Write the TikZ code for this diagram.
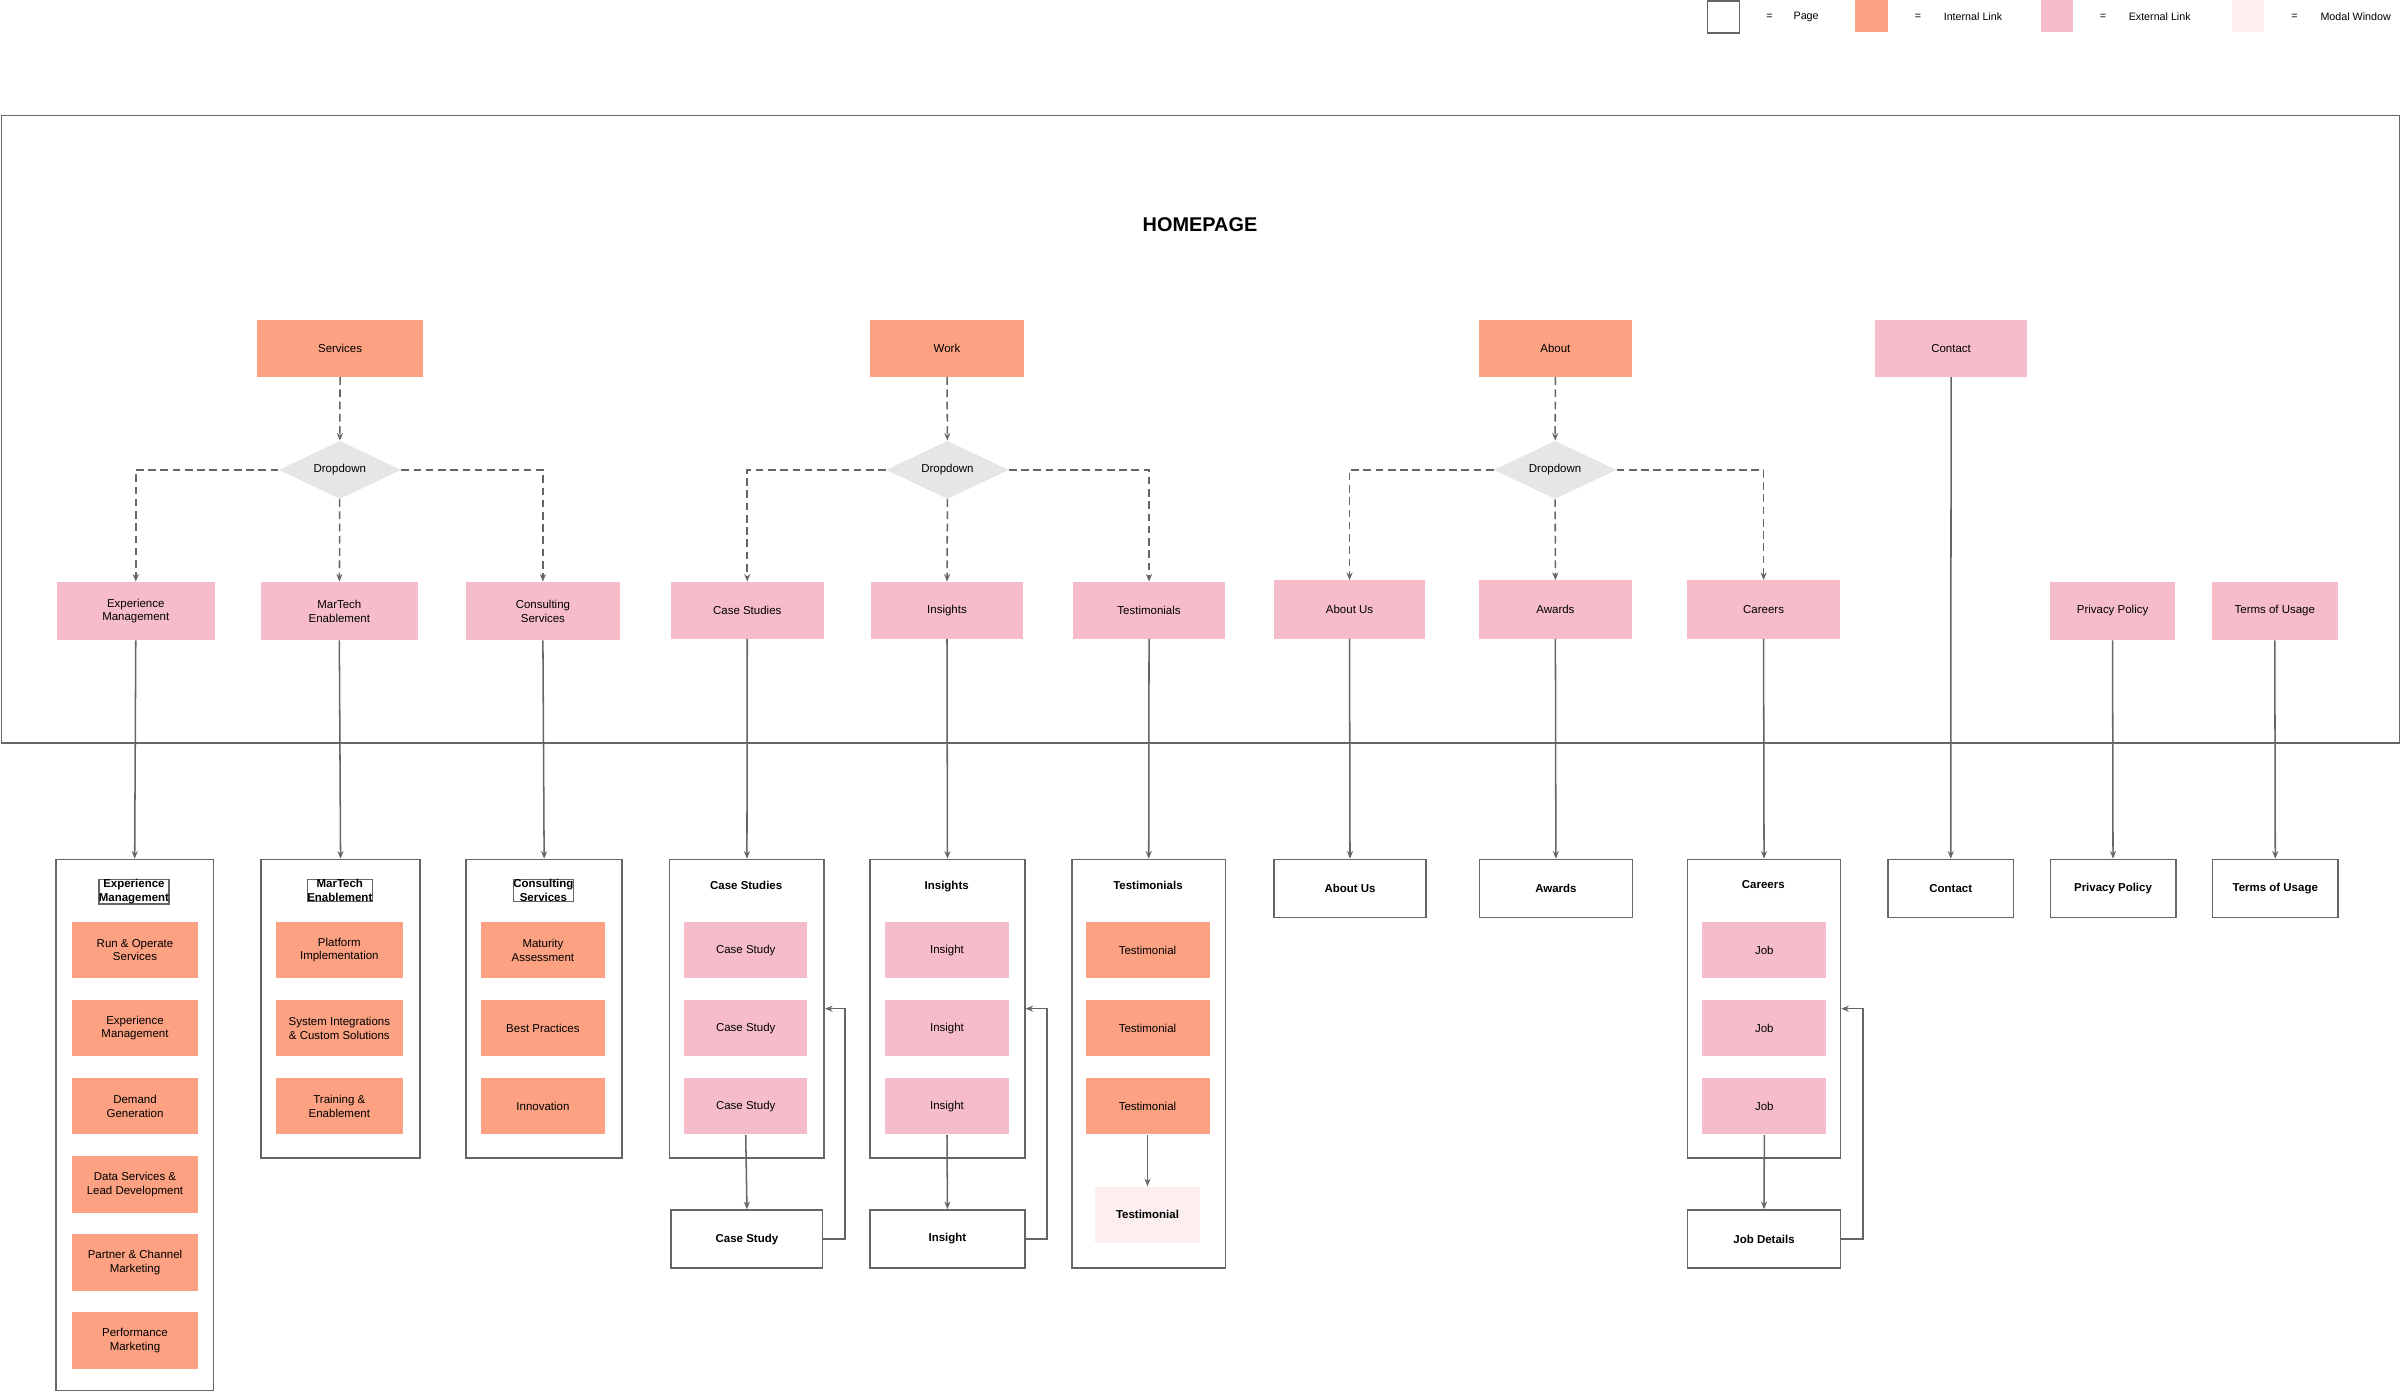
\documentclass[tikz,border=0pt]{standalone}
\usepackage{fontspec}
\setmainfont{Liberation Sans}
\usetikzlibrary{shapes.geometric,arrows.meta}
\definecolor{orng}{HTML}{FCA181}
\definecolor{pnk}{HTML}{F6BCCA}
\definecolor{modal}{HTML}{FDEEF0}
\definecolor{ln}{HTML}{666666}
\definecolor{dd}{HTML}{E6E6E6}
\begin{document}
\begin{tikzpicture}[x=1pt,y=-1pt,
 b/.style={anchor=north west,inner sep=1pt,align=center,font=\fontsize{7.5}{9}\selectfont,text=black},
 int/.style={b,fill=orng},
 ext/.style={b,fill=pnk},
 mod/.style={b,fill=modal,font=\fontsize{7.5}{9}\selectfont\bfseries},
 pg/.style={b,draw=ln,line width=1pt,font=\fontsize{7.5}{9}\selectfont\bfseries},
 pgt/.style={b,draw=ln,line width=1pt,anchor=north,inner sep=0pt},
 dia/.style={diamond,fill=dd,aspect=2.1,minimum width=80pt,minimum height=38pt,inner sep=0pt,font=\fontsize{7.5}{9}\selectfont},
 ar/.style={draw=ln,line width=1pt,-{Stealth[length=5pt,width=4pt]}},
 da/.style={ar,dashed,dash pattern=on 5pt off 3pt},
 dl/.style={draw=ln,line width=1pt,dashed,dash pattern=on 5pt off 3pt},
 lg/.style={font=\fontsize{7}{8}\selectfont,anchor=center}]
\useasboundingbox (0,0) rectangle (1568,909);
% legend
\node[b,draw=ln,line width=1pt,minimum width=21pt,minimum height=21pt] (lp) at (1115,0) {};
\node[lg] (le1) at (1156,11) {=}; \node[lg] (lt1) at (1180,11) {Page};
\node[int,minimum width=21pt,minimum height=21pt] (li) at (1212,0) {};
\node[lg] (le2) at (1253,11) {=}; \node[lg] (lt2) at (1289,11) {Internal Link};
\node[ext,minimum width=21pt,minimum height=21pt] (lx) at (1333,0) {};
\node[lg] (le3) at (1374,11) {=}; \node[lg] (lt3) at (1411,11) {External Link};
\node[b,fill=modal,minimum width=21pt,minimum height=21pt] (lm) at (1458,0) {};
\node[lg] (le4) at (1499,11) {=}; \node[lg] (lt4) at (1539,11) {Modal Window};
% homepage frame
\node[b,draw=ln,line width=1pt,minimum width=1567pt,minimum height=410pt] (home) at (0.5,75) {};
\node[font=\fontsize{13}{15}\selectfont\bfseries] (ht) at (784,147) {HOMEPAGE};
% top
\node[int,minimum width=108pt,minimum height=37pt] (serv) at (168,209) {Services};
\node[int,minimum width=101pt,minimum height=37pt] (work) at (568,209) {Work};
\node[int,minimum width=100pt,minimum height=37pt] (about) at (966,209) {About};
\node[ext,minimum width=99pt,minimum height=37pt] (contact) at (1225,209) {Contact};
\node[dia] (d1) at (222,307) {Dropdown};
\node[dia] (d2) at (619,307) {Dropdown};
\node[dia] (d3) at (1016,307) {Dropdown};
% level 2
\node[ext,minimum width=103pt,minimum height=38pt] (l1) at (37,380) {Experience\\Management};
\node[ext,minimum width=103pt,minimum height=38pt] (l2) at (170,380) {MarTech\\Enablement};
\node[ext,minimum width=101pt,minimum height=38pt] (l3) at (304,380) {Consulting\\Services};
\node[ext,minimum width=100pt,minimum height=37pt] (l4) at (438,380) {Case Studies};
\node[ext,minimum width=99pt,minimum height=37pt] (l5) at (569,380) {Insights};
\node[ext,minimum width=99pt,minimum height=37pt] (l6) at (701,380) {Testimonials};
\node[ext,minimum width=99pt,minimum height=38pt] (l7) at (832,379) {About Us};
\node[ext,minimum width=100pt,minimum height=38pt] (l8) at (966,379) {Awards};
\node[ext,minimum width=100pt,minimum height=38pt] (l9) at (1102,379) {Careers};
\node[ext,minimum width=82pt,minimum height=38pt] (l10) at (1339,380) {Privacy Policy};
\node[ext,minimum width=82pt,minimum height=38pt] (l11) at (1445,380) {Terms of Usage};
% dashed
\draw[da] (serv) -- (d1); \draw[da] (d1) -- (l2);
\draw[da] (d1.west) -| (l1.north); \draw[da] (d1.east) -| (l3.north);
\draw[da] (work) -- (d2); \draw[da] (d2) -- (l5);
\draw[da] (d2.west) -| (l4.north); \draw[da] (d2.east) -| (l6.north);
\draw[da] (about) -- (d3); \draw[da] (d3) -- (l8);
\draw[da] (d3.west) -| (l7.north); \draw[da] (d3.east) -| (l9.north);
% pages
\node[pg,minimum width=103pt,minimum height=347pt] (p1) at (36,561) {};
\node[pgt,font=\fontsize{7.5}{9}\selectfont\bfseries] (p1t) at (87.5,574) {Experience\\Management};
\node[pg,minimum width=104pt,minimum height=195pt] (p2) at (170,561) {};
\node[pgt,font=\fontsize{7.5}{9}\selectfont\bfseries] (p2t) at (222,574) {MarTech\\Enablement};
\node[pg,minimum width=102pt,minimum height=195pt] (p3) at (304,561) {};
\node[pgt,font=\fontsize{7.5}{9}\selectfont\bfseries] (p3t) at (355,574) {Consulting\\Services};
\node[pg,minimum width=101pt,minimum height=195pt] (p4) at (437,561) {};
\node[pgt,draw=none,font=\fontsize{7.5}{9}\selectfont\bfseries] (p4t) at (487.5,575) {Case Studies};
\node[pg,minimum width=101pt,minimum height=195pt] (p5) at (568,561) {};
\node[pgt,draw=none,font=\fontsize{7.5}{9}\selectfont\bfseries] (p5t) at (618.5,575) {Insights};
\node[pg,minimum width=100pt,minimum height=267pt] (p6) at (700,561) {};
\node[pgt,draw=none,font=\fontsize{7.5}{9}\selectfont\bfseries] (p6t) at (750,575) {Testimonials};
\node[pg,minimum width=99pt,minimum height=38pt] (p7) at (832,561) {About Us};
\node[pg,minimum width=100pt,minimum height=38pt] (p8) at (966,561) {Awards};
\node[pg,minimum width=100pt,minimum height=195pt] (p9) at (1102,561) {};
\node[pgt,draw=none,font=\fontsize{7.5}{9}\selectfont\bfseries] (p9t) at (1152,575) {Careers};
\node[pg,minimum width=82pt,minimum height=38pt] (p10) at (1233,561) {Contact};
\node[pg,minimum width=82pt,minimum height=38pt] (p11) at (1339,561) {Privacy Policy};
\node[pg,minimum width=82pt,minimum height=38pt] (p12) at (1445,561) {Terms of Usage};
\path (p1t.north) ++(0,0) coordinate (c0);
% items
\foreach \t [count=\i] in {Run \& Operate\\Services,Experience\\Management,Demand\\Generation,Data Services \&\\Lead Development,Partner \& Channel\\Marketing,Performance\\Marketing}
 \node[int,minimum width=82pt,minimum height=37pt] (e\i) at (47,{602+51*(\i-1)}) {\t};
\foreach \t [count=\i] in {Platform\\Implementation,System Integrations\\\& Custom Solutions,Training \&\\Enablement}
 \node[int,minimum width=83pt,minimum height=37pt] (m\i) at (180,{602+51*(\i-1)}) {\t};
\foreach \t [count=\i] in {Maturity\\Assessment,Best Practices,Innovation}
 \node[int,minimum width=81pt,minimum height=37pt] (c\i) at (314,{602+51*(\i-1)}) {\t};
\foreach \i in {1,2,3}{
 \node[ext,minimum width=80pt,minimum height=37pt] (cs\i) at (447,{602+51*(\i-1)}) {Case Study};
 \node[ext,minimum width=81pt,minimum height=37pt] (in\i) at (578,{602+51*(\i-1)}) {Insight};
 \node[int,minimum width=81pt,minimum height=37pt] (te\i) at (709,{602+51*(\i-1)}) {Testimonial};
 \node[ext,minimum width=81pt,minimum height=37pt] (jb\i) at (1112,{602+51*(\i-1)}) {Job};
}
\node[mod,minimum width=69pt,minimum height=37pt] (tm) at (715,775) {Testimonial};
\node[pg,minimum width=99pt,minimum height=38pt] (csp) at (438,790) {Case Study};
\node[pg,minimum width=101pt,minimum height=38pt] (inp) at (568,790) {Insight};
\node[pg,minimum width=100pt,minimum height=38pt] (jbp) at (1102,790) {Job Details};
% vertical arrows
\foreach \a/\b in {l1/p1,l2/p2,l3/p3,l4/p4,l5/p5,l6/p6,l7/p7,l8/p8,l9/p9,contact/p10,l10/p11,l11/p12,cs3/csp,in3/inp,te3/tm,jb3/jbp}
 \draw[ar] (\a.south) -- (\b.north);
% loop backs
\draw[ar] (csp.east) -- ++(14,0) |- (p4.east |- 0,659);
\draw[ar] (inp.east) -- ++(14,0) |- (p5.east |- 0,659);
\draw[ar] (jbp.east) -- ++(14,0) |- (p9.east |- 0,659);
\end{tikzpicture}
\end{document}
